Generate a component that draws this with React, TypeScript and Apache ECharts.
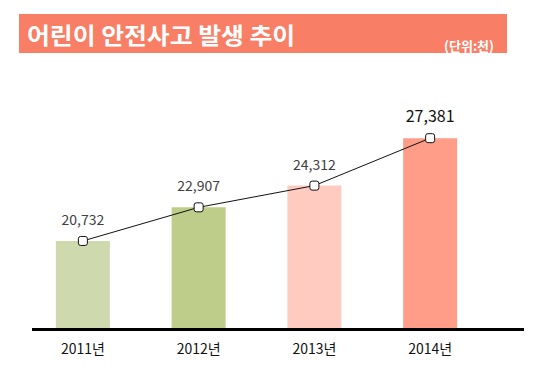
import React, { useEffect, useRef } from "react";
import * as echarts from "echarts";

const categories = ["2011년", "2012년", "2013년", "2014년"];
const values = [20732, 22907, 24312, 27381];
const barColors = ["#CFD9AE", "#BECD8A", "#FFCBC1", "#FF9D88"];
const title = "어린이 안전사고 발생 추이";
const unit = "(단위:천)";

const FONT = "'Noto Sans CJK KR', 'Noto Sans', sans-serif";

export default function App() {
  const ref = useRef<HTMLDivElement>(null);
  useEffect(() => {
    if (!ref.current) return;
    const chart = echarts.init(ref.current, null, { renderer: "svg" });
    const fmt = (v: number) => v.toLocaleString("en-US");
    chart.setOption({
      animation: false,
      backgroundColor: "#ffffff",
      textStyle: { fontFamily: FONT },
      grid: { left: 25, right: 48, top: 97.7, bottom: 48 },
      xAxis: {
        type: "category",
        data: categories,
        axisLine: { show: false },
        axisTick: { show: false },
        axisLabel: { color: "#111", fontSize: 14, margin: 13, fontFamily: FONT },
      },
      yAxis: {
        type: "value",
        min: 15100,
        max: 30000,
        show: false,
        splitLine: { show: false },
      },
      graphic: [
        {
          type: "rect",
          shape: { x: 19, y: 14, width: 488, height: 39 },
          style: { fill: "#F87E65" },
        },
        {
          type: "text",
          x: 27,
          y: 34,
          scaleX: 1.08,
          style: {
            text: title,
            fill: "#ffffff",
            font: `bold 23px ${FONT}`,
            verticalAlign: "middle",
          },
        },
        {
          type: "text",
          x: 494,
          y: 45,
          style: {
            text: unit,
            fill: "#ffffff",
            font: `bold 13px ${FONT}`,
            align: "right",
            verticalAlign: "middle",
          },
        },
        {
          type: "line",
          shape: { x1: 32, y1: 329.5, x2: 524, y2: 329.5 },
          style: { stroke: "#000000", lineWidth: 3 },
          z: 100,
        },
      ],
      series: [
        {
          type: "bar",
          data: values.map((v, i) => ({ value: v, itemStyle: { color: barColors[i] } })),
          barWidth: 54,
          z: 1,
        },
        {
          type: "line",
          data: values.map((v, i) => ({
            value: v,
            label:
              i === values.length - 1
                ? { fontSize: 16, color: "#111" }
                : { fontSize: 14, color: "#404040" },
          })),
          symbol: "roundRect",
          symbolSize: 9,
          lineStyle: { color: "#111", width: 1 },
          itemStyle: { color: "#ffffff", borderColor: "#111", borderWidth: 1 },
          label: {
            show: true,
            position: "top",
            distance: 10,
            formatter: (p: any) => fmt(p.value),
            fontFamily: FONT,
          },
          z: 5,
        },
      ],
    });
    return () => chart.dispose();
  }, []);
  return <div ref={ref} style={{ width: 536, height: 376, position: "absolute", left: 0, top: 0 }} />;
}
